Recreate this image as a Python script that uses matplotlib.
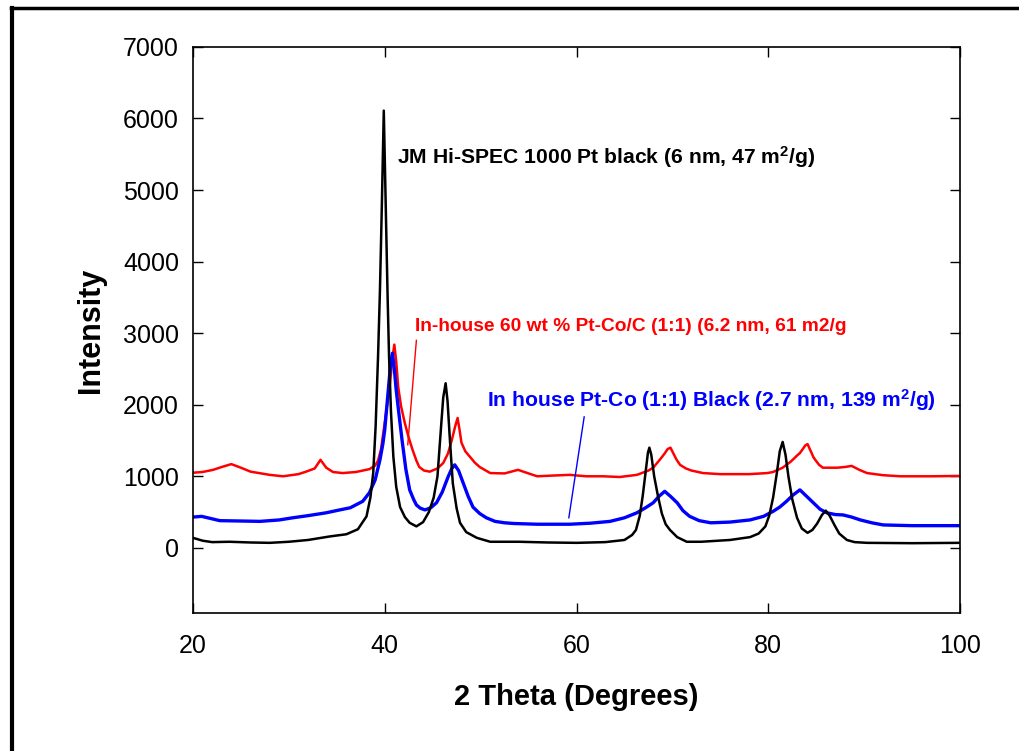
import matplotlib
matplotlib.use('Agg')
import matplotlib.pyplot as plt
from matplotlib.lines import Line2D

plt.rcParams['font.family'] = ['Liberation Sans', 'DejaVu Sans']
plt.rcParams['mathtext.fontset'] = 'custom'
plt.rcParams['mathtext.rm'] = 'Liberation Sans:bold'
plt.rcParams['mathtext.default'] = 'rm'

# JM Hi-SPEC 1000 Pt black
black_x = [20.0, 21.0, 22.0, 23.8, 26.0, 28.0, 30.0, 32.0, 34.3, 36.0, 37.2, 38.1,
           38.5, 38.8, 39.05, 39.3, 39.5, 39.7, 39.9, 40.1, 40.3, 40.45, 40.65, 40.9,
           41.2, 41.6, 42.1, 42.6, 43.3, 44.0, 44.6, 45.1, 45.5, 45.9, 46.1, 46.35,
           46.55, 46.8, 47.1, 47.5, 47.85, 48.5, 49.6, 51.0, 54.0, 57.0, 60.0, 63.0,
           65.0, 65.8, 66.2, 66.6, 66.9, 67.2, 67.45, 67.6, 67.8, 68.1, 68.5, 68.9,
           69.3, 69.75, 70.5, 71.5, 73.0, 76.0, 78.1, 79.0, 79.7, 80.1, 80.5, 80.9,
           81.2, 81.5, 81.8, 82.1, 82.5, 83.0, 83.5, 84.1, 84.6, 85.1, 85.6, 86.0,
           86.4, 86.9, 87.4, 88.2, 89.0, 90.3, 95.0, 100.0]
black_y = [140, 100, 80, 85, 75, 70, 85, 110, 160, 190, 260, 440,
           700, 1050, 1700, 2670, 3600, 4800, 6110, 4800, 3500, 2670, 1900, 1270,
           850, 570, 430, 350, 300, 360, 500, 700, 1000, 1740, 2100, 2300,
           2050, 1500, 900, 550, 350, 220, 140, 85, 85, 75, 70, 80,
           110, 180, 250, 450, 720, 1050, 1330, 1400, 1300, 1000, 720, 480,
           330, 250, 150, 85, 85, 110, 150, 200, 300, 450, 700, 1050,
           1350, 1480, 1300, 1000, 680, 420, 270, 210, 250, 340, 460, 520,
           450, 320, 200, 110, 80, 70, 65, 70]

# In-house 60 wt % Pt-Co/C
red_x = [20.0, 21.0, 22.1, 23.0, 24.0, 25.0, 26.0, 28.0, 29.4, 31.0, 31.8, 32.7,
         33.3, 33.9, 34.6, 35.6, 37.0, 38.4, 39.0, 39.3, 39.6, 40.0, 40.3, 40.55,
         40.8, 41.0, 41.2, 41.4, 41.7, 42.1, 42.5, 42.9, 43.3, 43.6, 44.1, 44.7,
         45.5, 46.1, 46.6, 47.0, 47.35, 47.6, 47.8, 48.0, 48.4, 48.9, 49.4, 49.9,
         51.0, 52.5, 53.9, 55.0, 55.9, 57.5, 59.3, 61.0, 62.8, 64.5, 66.3, 67.5,
         68.0, 68.4, 68.8, 69.2, 69.5, 69.8, 70.1, 70.4, 70.8, 71.4, 72.0, 73.2,
         75.0, 78.0, 79.9, 80.5, 81.0, 81.5, 81.9, 82.3, 82.7, 83.0, 83.3, 83.6,
         83.85, 84.1, 84.4, 84.7, 84.9, 85.3, 85.7, 87.2, 88.0, 88.7, 89.5, 90.3,
         92.0, 93.8, 97.0, 100.0]
red_y = [1050, 1060, 1090, 1130, 1170, 1120, 1065, 1020, 1000, 1030, 1065, 1110,
         1230, 1120, 1060, 1045, 1060, 1100, 1150, 1220, 1370, 1750, 2050, 2300,
         2650, 2840, 2600, 2250, 1980, 1740, 1540, 1370, 1220, 1130, 1080, 1065,
         1110, 1185, 1320, 1510, 1700, 1815, 1650, 1470, 1350, 1270, 1190, 1130,
         1045, 1040, 1090, 1040, 1000, 1010, 1020, 1000, 1000, 990, 1020, 1080,
         1120, 1185, 1250, 1320, 1380, 1400, 1320, 1240, 1160, 1110, 1080, 1045,
         1030, 1030, 1045, 1060, 1090, 1120, 1160, 1200, 1250, 1290, 1325, 1380,
         1430, 1450, 1360, 1270, 1230, 1160, 1120, 1120, 1130, 1145, 1090, 1045,
         1015, 1000, 1000, 1005]

# In house Pt-Co (1:1) Black
blue_x = [20.0, 20.9, 22.8, 25.0, 27.0, 29.0, 30.4, 32.0, 33.9, 35.3, 36.4, 37.7,
          38.4, 39.0, 39.5, 39.8, 40.0, 40.2, 40.4, 40.6, 40.8, 41.0, 41.2, 41.5,
          41.8, 42.2, 42.6, 43.0, 43.3, 43.7, 44.2, 44.8, 45.4, 46.0, 46.6, 47.0,
          47.3, 47.7, 48.2, 48.7, 49.2, 49.9, 50.6, 51.5, 52.5, 53.5, 55.9, 59.3,
          61.5, 63.5, 65.0, 66.3, 67.2, 68.0, 68.6, 69.2, 69.8, 70.5, 71.1, 71.8,
          72.8, 74.0, 76.0, 78.1, 79.5, 80.5, 81.2, 81.9, 82.6, 83.3, 84.0, 84.7,
          85.4, 86.1, 87.0, 87.8, 88.7, 89.6, 90.8, 92.0, 95.0, 100.0]
blue_y = [430, 440, 380, 375, 370, 390, 420, 450, 490, 530, 560, 650,
          770, 950, 1230, 1450, 1650, 1950, 2250, 2550, 2720, 2500, 2200, 1850,
          1510, 1100, 810, 680, 600, 555, 530, 560, 630, 780, 990, 1110,
          1160, 1080, 900, 720, 570, 480, 420, 370, 350, 340, 330, 330,
          345, 370, 420, 490, 560, 630, 720, 790, 720, 630, 520, 440,
          380, 350, 360, 390, 440, 510, 570, 650, 740, 810, 720, 630,
          540, 490, 465, 460, 430, 390, 350, 320, 310, 310]

x_ticks = [20, 40, 60, 80, 100]
y_ticks = [0, 1000, 2000, 3000, 4000, 5000, 6000, 7000]

black_label = 'JM Hi-SPEC 1000 Pt black (6 nm, 47 m$^2$/g)'
red_label = 'In-house 60 wt % Pt-Co/C (1:1) (6.2 nm, 61 m2/g'
blue_label = 'In house Pt-Co (1:1) Black (2.7 nm, 139 m$^2$/g)'

fig = plt.figure(figsize=(10.2, 7.51), dpi=100)
ax = fig.add_axes([0.1892, 0.1838, 0.752, 0.7537])

ax.plot(red_x, red_y, color='#ff0000', lw=1.8)
ax.plot(blue_x, blue_y, color='#0000ff', lw=2.4)
ax.plot(black_x, black_y, color='black', lw=1.8)

# leader lines from the labels to the curves
ax.plot([43.3, 42.4], [2900, 1440], color='#ff0000', lw=1.0)
ax.plot([60.8, 59.2], [1830, 420], color='#0000ff', lw=1.0)

ax.text(41.3, 5460, black_label, color='black', fontsize=15.2,
        fontweight='bold', va='center', ha='left')
ax.text(43.2, 3100, red_label, color='#ff0000', fontsize=13.8,
        fontweight='bold', va='center', ha='left')
ax.text(50.7, 2070, blue_label, color='#0000ff', fontsize=15.2,
        fontweight='bold', va='center', ha='left')

ax.set_xlim(20, 100)
ax.set_ylim(-910, 7000)
ax.set_xticks(x_ticks)
ax.set_yticks(y_ticks)
ax.tick_params(direction='in', length=7, width=1, top=True, right=True,
               labelsize=18, pad=10)
ax.tick_params(axis='x', pad=15)
for sp in ax.spines.values():
    sp.set_linewidth(1.2)

ax.set_xlabel('2 Theta (Degrees)', fontsize=21, fontweight='bold', labelpad=18)
ax.set_ylabel('Intensity', fontsize=22, fontweight='bold', labelpad=12)

# outer frame (cropped at right and bottom)
fig.add_artist(Line2D([12 / 1020, 12 / 1020], [0, 1 - 8 / 751],
                      transform=fig.transFigure, color='black', lw=3))
fig.add_artist(Line2D([11 / 1020, 1], [1 - 8 / 751, 1 - 8 / 751],
                      transform=fig.transFigure, color='black', lw=2.5))

fig.savefig('out.png', dpi=100, facecolor='white')
